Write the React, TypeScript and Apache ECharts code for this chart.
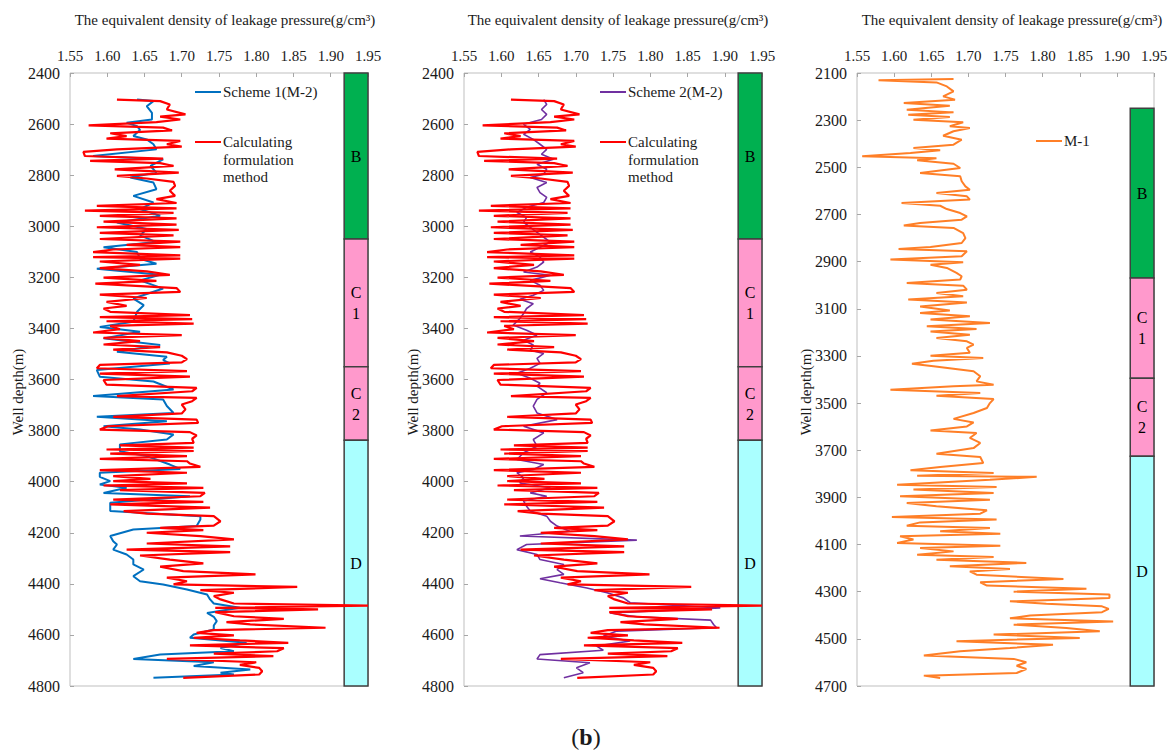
import React, { useEffect, useRef } from "react";
import * as echarts from "echarts";

// ---------- DATA (depth m, equivalent density g/cm3) ----------
const xTicksMin = 1.55;
const xTicksMax = 1.95;
const xTickStep = 0.05;

const depthRangeM2 = [2400, 4800];
const depthRangeM1 = [2100, 4700];

const zoneNames = ["B", "C\n1", "C\n2", "D"];
const zoneBoundsM2 = [2400, 3050, 3550, 3838, 4800];
const zoneBoundsM1 = [2250, 2970, 3395, 3725, 4700];
const zoneBarFrom = 1.918;

// Calculating formulation method (M-2) – shared by panels 1 and 2
const calcMethod: [number, number][] = [
  [2504, 1.613], [2510, 1.671], [2523, 1.684], [2543, 1.68], [2562, 1.705], [2571, 1.671], [2582, 1.698],
  [2592, 1.666], [2605, 1.575], [2614, 1.675], [2625, 1.687], [2636, 1.604], [2647, 1.626], [2657, 1.599],
  [2666, 1.698], [2679, 1.68], [2688, 1.7], [2699, 1.613], [2709, 1.568], [2725, 1.57], [2735, 1.675],
  [2744, 1.577], [2753, 1.671], [2764, 1.689], [2777, 1.61], [2790, 1.696], [2803, 1.613], [2813, 1.653],
  [2826, 1.689], [2842, 1.691], [2861, 1.684], [2881, 1.691], [2894, 1.666], [2909, 1.693], [2920, 1.586],
  [2930, 1.693], [2939, 1.57], [2948, 1.689], [2959, 1.59], [2969, 1.693], [2982, 1.595], [2994, 1.693],
  [3004, 1.586], [3014, 1.696], [3026, 1.59], [3036, 1.689], [3050, 1.59], [3060, 1.698], [3073, 1.626],
  [3082, 1.698], [3091, 1.608], [3101, 1.581], [3114, 1.698], [3121, 1.581], [3127, 1.698], [3138, 1.59],
  [3151, 1.644], [3164, 1.59], [3177, 1.653], [3190, 1.684], [3201, 1.595], [3214, 1.666], [3225, 1.584],
  [3242, 1.693], [3257, 1.698], [3268, 1.59], [3281, 1.653], [3296, 1.599], [3312, 1.626], [3322, 1.595],
  [3335, 1.604], [3348, 1.711], [3356, 1.59], [3364, 1.714], [3372, 1.599], [3381, 1.716], [3390, 1.604],
  [3403, 1.617], [3416, 1.581], [3426, 1.7], [3437, 1.595], [3450, 1.644], [3463, 1.595], [3473, 1.671],
  [3483, 1.608], [3494, 1.68], [3507, 1.7], [3520, 1.707], [3533, 1.7], [3543, 1.59], [3556, 1.586],
  [3567, 1.707], [3577, 1.59], [3589, 1.711], [3602, 1.595], [3620, 1.599], [3633, 1.72], [3646, 1.714],
  [3665, 1.613], [3672, 1.72], [3685, 1.714], [3698, 1.7], [3717, 1.705], [3733, 1.7], [3746, 1.608],
  [3757, 1.72], [3770, 1.722], [3783, 1.601], [3796, 1.59], [3806, 1.711], [3819, 1.72], [3832, 1.714],
  [3848, 1.716], [3858, 1.617], [3867, 1.716], [3874, 1.599], [3880, 1.716], [3890, 1.604], [3900, 1.707],
  [3911, 1.59], [3920, 1.707], [3929, 1.711], [3942, 1.725], [3955, 1.59], [3965, 1.707], [3978, 1.608],
  [3989, 1.658], [3998, 1.608], [4007, 1.707], [4015, 1.595], [4024, 1.729], [4033, 1.617], [4044, 1.731],
  [4057, 1.725], [4070, 1.608], [4079, 1.729], [4089, 1.604], [4102, 1.738], [4115, 1.622], [4125, 1.653],
  [4135, 1.743], [4155, 1.752], [4172, 1.743], [4181, 1.671], [4190, 1.729], [4200, 1.653], [4213, 1.725],
  [4226, 1.77], [4242, 1.653], [4253, 1.765], [4266, 1.626], [4276, 1.765], [4289, 1.644], [4305, 1.684],
  [4320, 1.729], [4333, 1.671], [4350, 1.702], [4363, 1.799], [4376, 1.68], [4390, 1.707], [4402, 1.689],
  [4412, 1.855], [4425, 1.725], [4435, 1.77], [4448, 1.743], [4461, 1.752], [4477, 1.77], [4485, 1.95],
  [4494, 1.745], [4500, 1.883], [4511, 1.745], [4527, 1.77], [4537, 1.837], [4550, 1.76], [4559, 1.792],
  [4572, 1.893], [4581, 1.743], [4592, 1.72], [4602, 1.77], [4611, 1.716], [4621, 1.778], [4631, 1.843],
  [4641, 1.711], [4652, 1.837], [4664, 1.828], [4673, 1.743], [4683, 1.823], [4694, 1.68], [4707, 1.8],
  [4717, 1.778], [4729, 1.804], [4742, 1.808], [4755, 1.804], [4768, 1.702],
];

// Scheme 1 (M-2)
const scheme1: [number, number][] = [
  [2504, 1.64], [2510, 1.662], [2530, 1.653], [2556, 1.66], [2582, 1.66], [2595, 1.626], [2608, 1.64],
  [2623, 1.644], [2647, 1.635], [2660, 1.653], [2679, 1.662], [2699, 1.666], [2725, 1.581], [2738, 1.675],
  [2764, 1.658], [2790, 1.666], [2809, 1.631], [2829, 1.662], [2855, 1.666], [2881, 1.635], [2907, 1.662],
  [2933, 1.644], [2959, 1.671], [2985, 1.613], [3011, 1.653], [3036, 1.644], [3062, 1.666], [3082, 1.595],
  [3101, 1.64], [3127, 1.644], [3147, 1.666], [3166, 1.586], [3190, 1.671], [3212, 1.644], [3244, 1.675],
  [3283, 1.635], [3309, 1.649], [3335, 1.64], [3374, 1.635], [3394, 1.59], [3413, 1.644], [3439, 1.595],
  [3465, 1.671], [3491, 1.613], [3511, 1.68], [3524, 1.675], [3537, 1.684], [3563, 1.586], [3589, 1.59],
  [3608, 1.662], [3639, 1.689], [3665, 1.581], [3678, 1.675], [3704, 1.68], [3731, 1.689], [3746, 1.586],
  [3763, 1.68], [3783, 1.595], [3796, 1.644], [3815, 1.689], [3835, 1.68], [3854, 1.617], [3881, 1.617],
  [3900, 1.653], [3933, 1.684], [3950, 1.698], [3965, 1.59], [3981, 1.59], [3998, 1.604], [4011, 1.59],
  [4024, 1.626], [4044, 1.595], [4057, 1.711], [4083, 1.604], [4096, 1.604], [4115, 1.604], [4135, 1.725],
  [4148, 1.725], [4174, 1.72], [4187, 1.635], [4213, 1.604], [4233, 1.608], [4246, 1.613], [4266, 1.608],
  [4285, 1.626], [4305, 1.635], [4324, 1.635], [4344, 1.649], [4370, 1.635], [4390, 1.644], [4403, 1.675],
  [4422, 1.707], [4442, 1.734], [4461, 1.738], [4477, 1.743], [4494, 1.778], [4514, 1.734], [4529, 1.743],
  [4546, 1.747], [4563, 1.743], [4579, 1.743], [4598, 1.716], [4611, 1.711], [4631, 1.787], [4651, 1.752],
  [4664, 1.77], [4677, 1.671], [4694, 1.635], [4707, 1.743], [4722, 1.716], [4735, 1.792], [4748, 1.752],
  [4755, 1.77], [4768, 1.662],
];

// Scheme 2 (M-2)
const scheme2: [number, number][] = [
  [2504, 1.657], [2523, 1.661], [2543, 1.654], [2562, 1.661], [2582, 1.654], [2601, 1.63], [2621, 1.639],
  [2640, 1.63], [2660, 1.643], [2679, 1.652], [2699, 1.661], [2718, 1.654], [2738, 1.67], [2757, 1.648],
  [2777, 1.661], [2796, 1.657], [2809, 1.639], [2829, 1.661], [2848, 1.648], [2868, 1.652], [2887, 1.661],
  [2907, 1.657], [2926, 1.634], [2946, 1.621], [2965, 1.634], [2985, 1.63], [3004, 1.639], [3024, 1.648],
  [3043, 1.657], [3062, 1.666], [3082, 1.652], [3101, 1.639], [3121, 1.652], [3140, 1.657], [3160, 1.648],
  [3179, 1.63], [3192, 1.666], [3212, 1.639], [3231, 1.652], [3251, 1.657], [3270, 1.643], [3286, 1.625],
  [3303, 1.643], [3322, 1.634], [3342, 1.63], [3361, 1.625], [3387, 1.616], [3407, 1.634], [3426, 1.648],
  [3446, 1.63], [3465, 1.643], [3485, 1.639], [3498, 1.657], [3517, 1.648], [3537, 1.652], [3556, 1.639],
  [3576, 1.621], [3595, 1.639], [3615, 1.652], [3626, 1.648], [3652, 1.661], [3678, 1.648], [3704, 1.643],
  [3731, 1.648], [3757, 1.675], [3783, 1.63], [3809, 1.657], [3835, 1.643], [3861, 1.648], [3887, 1.63],
  [3913, 1.621], [3933, 1.657], [3952, 1.643], [3965, 1.621], [3985, 1.63], [4005, 1.625], [4024, 1.666],
  [4044, 1.639], [4057, 1.661], [4076, 1.63], [4096, 1.634], [4115, 1.639], [4135, 1.661], [4155, 1.666],
  [4174, 1.675], [4194, 1.692], [4213, 1.625], [4229, 1.782], [4246, 1.634], [4266, 1.621], [4285, 1.648],
  [4305, 1.652], [4324, 1.684], [4344, 1.675], [4363, 1.684], [4380, 1.652], [4396, 1.679], [4416, 1.715],
  [4435, 1.742], [4455, 1.764], [4474, 1.773], [4494, 1.894], [4514, 1.746], [4529, 1.782], [4542, 1.881],
  [4559, 1.885], [4572, 1.889], [4585, 1.755], [4605, 1.737], [4624, 1.773], [4644, 1.728], [4660, 1.737],
  [4677, 1.652], [4694, 1.648], [4709, 1.719], [4729, 1.701], [4748, 1.71], [4768, 1.684],
];

// M-1
const wellM1: [number, number][] = [
  [2125, 1.68], [2131, 1.579], [2140, 1.657], [2157, 1.671], [2178, 1.68], [2199, 1.666], [2213, 1.682],
  [2227, 1.613], [2239, 1.675], [2256, 1.617], [2267, 1.68], [2277, 1.619], [2287, 1.675], [2298, 1.626],
  [2309, 1.693], [2326, 1.675], [2333, 1.702], [2347, 1.68], [2366, 1.666], [2383, 1.691], [2404, 1.68],
  [2418, 1.626], [2428, 1.662], [2439, 1.622], [2453, 1.557], [2462, 1.657], [2470, 1.631], [2485, 1.68],
  [2503, 1.689], [2524, 1.635], [2538, 1.689], [2559, 1.691], [2581, 1.696], [2595, 1.702], [2609, 1.657],
  [2623, 1.698], [2637, 1.702], [2651, 1.61], [2663, 1.662], [2677, 1.671], [2694, 1.689], [2708, 1.698],
  [2722, 1.691], [2736, 1.635], [2747, 1.613], [2757, 1.68], [2779, 1.693], [2800, 1.696], [2821, 1.691],
  [2838, 1.649], [2846, 1.606], [2856, 1.698], [2877, 1.691], [2891, 1.595], [2903, 1.693], [2913, 1.649],
  [2927, 1.671], [2948, 1.684], [2962, 1.691], [2976, 1.689], [2991, 1.617], [3002, 1.693], [3019, 1.698],
  [3033, 1.657], [3047, 1.693], [3061, 1.619], [3073, 1.698], [3090, 1.635], [3107, 1.675], [3118, 1.635],
  [3132, 1.702], [3146, 1.649], [3160, 1.729], [3174, 1.644], [3186, 1.711], [3196, 1.649], [3210, 1.702],
  [3224, 1.657], [3238, 1.698], [3252, 1.707], [3266, 1.698], [3287, 1.702], [3299, 1.649], [3309, 1.72],
  [3320, 1.653], [3333, 1.624], [3344, 1.653], [3365, 1.707], [3386, 1.716], [3408, 1.711], [3422, 1.734],
  [3429, 1.68], [3443, 1.595], [3457, 1.716], [3469, 1.657], [3483, 1.734], [3500, 1.729], [3521, 1.725],
  [3542, 1.707], [3567, 1.68], [3582, 1.707], [3599, 1.698], [3616, 1.649], [3627, 1.711], [3648, 1.702],
  [3669, 1.716], [3691, 1.707], [3715, 1.657], [3729, 1.716], [3754, 1.72], [3771, 1.662], [3785, 1.622],
  [3797, 1.734], [3808, 1.631], [3813, 1.792], [3825, 1.729], [3846, 1.604], [3856, 1.738], [3867, 1.626],
  [3881, 1.734], [3895, 1.608], [3910, 1.729], [3924, 1.617], [3938, 1.657], [3955, 1.725], [3969, 1.716],
  [3983, 1.597], [3994, 1.738], [4006, 1.635], [4020, 1.617], [4030, 1.729], [4044, 1.662], [4054, 1.743],
  [4065, 1.608], [4079, 1.626], [4093, 1.604], [4105, 1.743], [4115, 1.635], [4129, 1.68], [4143, 1.631],
  [4153, 1.734], [4164, 1.657], [4178, 1.778], [4192, 1.675], [4204, 1.756], [4214, 1.702], [4228, 1.711],
  [4246, 1.828], [4260, 1.716], [4274, 1.725], [4288, 1.859], [4300, 1.761], [4312, 1.89], [4327, 1.89],
  [4341, 1.756], [4351, 1.805], [4362, 1.88], [4373, 1.889], [4387, 1.88], [4401, 1.783], [4413, 1.756],
  [4426, 1.895], [4440, 1.761], [4454, 1.832], [4468, 1.877], [4482, 1.734], [4496, 1.85], [4510, 1.684],
  [4525, 1.814], [4539, 1.756], [4553, 1.689], [4571, 1.64], [4585, 1.761], [4599, 1.778], [4614, 1.765],
  [4628, 1.778], [4645, 1.765], [4656, 1.64], [4666, 1.662],
];

// ---------- STYLE ----------
const SERIF = '"Liberation Serif", "Times New Roman", serif';
const TEXT = "#1a1a1a";
const zoneColors = ["#00b050", "#ff99cc", "#ff99cc", "#aaffff"];
const grids = [
  { left: 70, top: 73, width: 298, height: 613 },
  { left: 464, top: 73, width: 298, height: 613 },
  { left: 857, top: 73, width: 297, height: 613 },
];

const toXY = (arr: [number, number][]) => arr.map(([d, v]) => [v, d]);

function zoneArea(bounds: number[]) {
  return {
    silent: true,
    label: {
      show: true,
      position: "inside",
      color: "#000",
      fontFamily: SERIF,
      fontSize: 16,
      lineHeight: 21,
      formatter: "{b}",
    },
    data: zoneNames.map((n, i) => [
      {
        name: n,
        xAxis: zoneBarFrom,
        yAxis: bounds[i],
        itemStyle: { color: zoneColors[i], borderColor: "#404040", borderWidth: 1.5, opacity: 1 },
      },
      { xAxis: xTicksMax, yAxis: bounds[i + 1] },
    ]),
  };
}

function lineSeries(name: string, data: [number, number][], idx: number, color: string, width: number, area?: any) {
  const s: any = {
    name,
    type: "line",
    xAxisIndex: idx,
    yAxisIndex: idx,
    data: toXY(data),
    symbol: "none",
    showSymbol: false,
    lineStyle: { color, width },
    itemStyle: { color },
    z: 3,
  };
  if (area) s.markArea = area;
  return s;
}

export default function App() {
  const ref = useRef<HTMLDivElement>(null);
  useEffect(() => {
    if (!ref.current) return;
    const chart = echarts.init(ref.current, undefined, { renderer: "svg" });

    const xAxes = grids.map((_, i) => ({
      type: "value",
      gridIndex: i,
      position: "top",
      min: xTicksMin,
      max: xTicksMax,
      interval: xTickStep,
      axisLine: { show: false },
      axisTick: { show: true, inside: true, length: 4, lineStyle: { color: "#a6a6a6" } },
      axisLabel: { formatter: (v: number) => v.toFixed(2), margin: 10, fontSize: 15, fontFamily: SERIF, color: TEXT },
      splitLine: { show: false },
    }));
    const yAxes = grids.map((_, i) => {
      const r = i === 2 ? depthRangeM1 : depthRangeM2;
      return {
        type: "value",
        gridIndex: i,
        inverse: true,
        min: r[0],
        max: r[1],
        interval: 200,
        axisLine: { show: false },
        axisTick: { show: true, inside: true, length: 4, lineStyle: { color: "#a6a6a6" } },
        axisLabel: { formatter: (v: number) => String(v), margin: 10, fontSize: 16, fontFamily: SERIF, color: TEXT },
        splitLine: { show: false },
      };
    });

    const title = "The equivalent density of leakage pressure(g/cm\u00b3)";
    const titleCenters = [225, 618, 1012];
    const yNameX = [18, 413, 806];

    const graphics: any[] = [];
    titleCenters.forEach((x) =>
      graphics.push({
        type: "text",
        x,
        y: 20,
        style: { text: title, align: "center", verticalAlign: "middle", font: `15px ${SERIF}`, fill: TEXT },
      })
    );
    yNameX.forEach((x) =>
      graphics.push({
        type: "text",
        x,
        y: 392,
        rotation: Math.PI / 2,
        style: { text: "Well depth(m)", align: "center", verticalAlign: "middle", font: `15px ${SERIF}`, fill: TEXT },
      })
    );
    const legendItems = [
      { x: 195, y: 92, color: "#0070c0", text: "Scheme 1(M-2)" },
      { x: 195, y: 142, color: "#ff0000", text: "Calculating\nformulation\nmethod" },
      { x: 600, y: 92, color: "#7030a0", text: "Scheme 2(M-2)" },
      { x: 600, y: 142, color: "#ff0000", text: "Calculating\nformulation\nmethod" },
      { x: 1036, y: 141, color: "#ff7f27", text: "M-1" },
    ];
    legendItems.forEach((l) => {
      graphics.push({
        type: "line",
        shape: { x1: l.x, y1: l.y, x2: l.x + 26, y2: l.y },
        style: { stroke: l.color, lineWidth: 2 },
      });
      graphics.push({
        type: "text",
        x: l.x + 28,
        y: l.y - 9,
        style: { text: l.text, align: "left", verticalAlign: "top", font: `15px ${SERIF}`, lineHeight: 17.7, fill: TEXT },
      });
    });
    graphics.push({
      type: "text",
      x: 586,
      y: 737,
      style: {
        text: "{a|(}{b|b}{a|)}",
        align: "center",
        verticalAlign: "middle",
        rich: {
          a: { fontFamily: SERIF, fontSize: 24, fill: TEXT, fontWeight: "normal" },
          b: { fontFamily: SERIF, fontSize: 24, fill: TEXT, fontWeight: "bold" },
        },
      },
    });

    chart.setOption({
      animation: false,
      backgroundColor: "#ffffff",
      grid: grids.map((g) => ({ ...g, show: true, borderColor: "#bfbfbf", borderWidth: 1, backgroundColor: "transparent", containLabel: false })),
      xAxis: xAxes,
      yAxis: yAxes,
      series: [
        lineSeries("Scheme 1(M-2)", scheme1, 0, "#0070c0", 2, zoneArea(zoneBoundsM2)),
        lineSeries("Calculating formulation method", calcMethod, 0, "#ff0000", 2.2),
        lineSeries("Scheme 2(M-2)", scheme2, 1, "#7030a0", 1.6, zoneArea(zoneBoundsM2)),
        lineSeries("Calculating formulation method ", calcMethod, 1, "#ff0000", 2.2),
        lineSeries("M-1", wellM1, 2, "#ff7f27", 2, zoneArea(zoneBoundsM1)),
      ],
      graphic: graphics,
    });
    return () => chart.dispose();
  }, []);

  return (
    <div
      ref={ref}
      style={{ position: "absolute", left: 0, top: 0, width: 1172, height: 753, background: "#fff" }}
    />
  );
}
